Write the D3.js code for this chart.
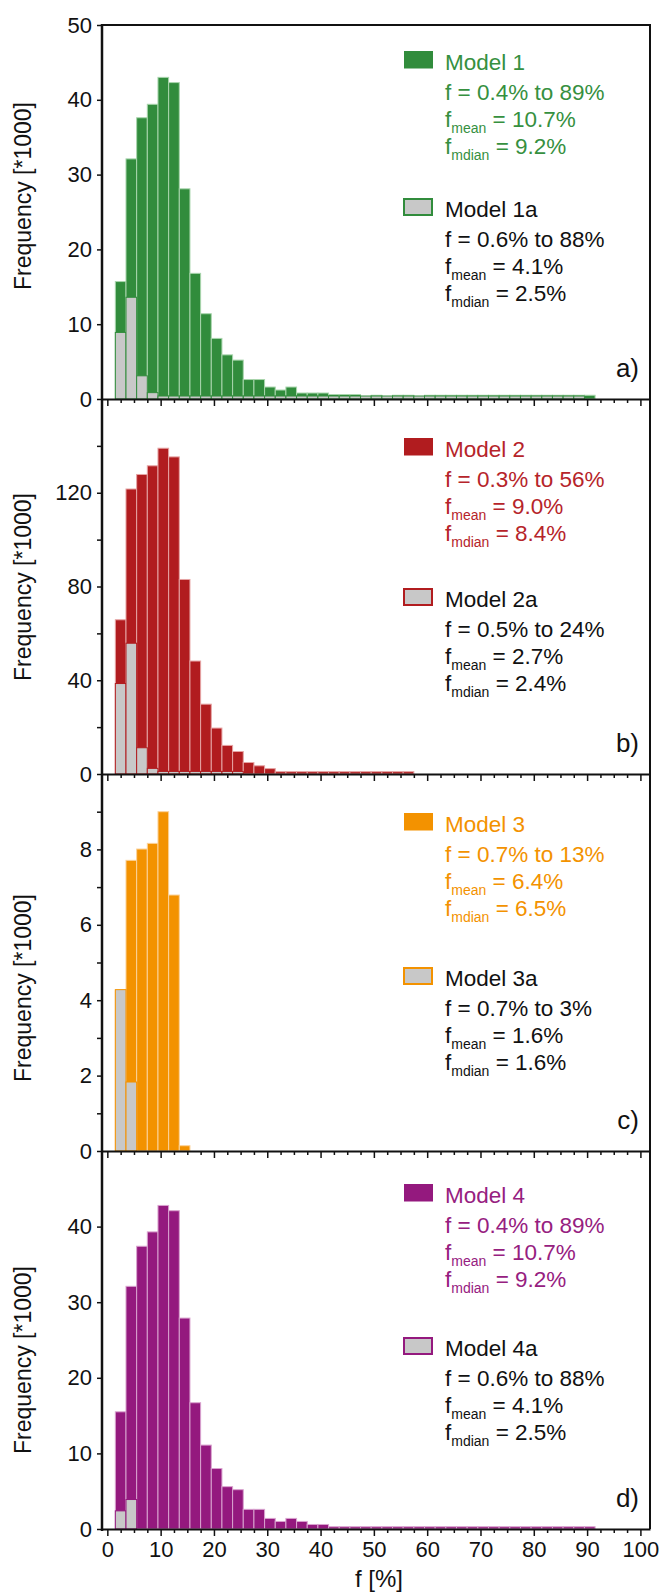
<!DOCTYPE html>
<html>
<head>
<meta charset="utf-8">
<script src="https://cdn.jsdelivr.net/npm/d3@7"></script>
<style>
  html, body { margin: 0; padding: 0; background: #fff; }
  svg { display: block; font-family: "Liberation Sans", Arial, sans-serif; }
</style>
</head>
<body>
<svg id="chart" width="662" height="1594"></svg>
<script>
// Histogram bins: 2 % wide, labelled by their centres
const binCenters = [2.5, 4.5, 6.5, 8.5, 10.5, 12.5, 14.5, 16.5, 18.5, 20.5,
  22.5, 24.5, 26.5, 28.5, 30.5, 32.5, 34.5, 36.5, 38.5, 40.5,
  42.5, 44.5, 46.5, 48.5, 50.5, 52.5, 54.5, 56.5, 58.5, 60.5,
  62.5, 64.5, 66.5, 68.5, 70.5, 72.5, 74.5, 76.5, 78.5, 80.5,
  82.5, 84.5, 86.5, 88.5, 90.5];
const binWidth = 2;

// Frequencies (*1000) per bin
const model1 = [15.7, 32.1, 37.6, 39.4, 43.0, 42.3, 28.1, 16.8, 11.4, 8.1,
  5.9, 5.2, 2.6, 2.6, 1.6, 1.2, 1.6, 0.8, 0.8, 0.8,
  0.6, 0.6, 0.6, 0.3, 0.5, 0.3, 0.5, 0.5, 0.3, 0.5,
  0.5, 0.5, 0.5, 0.5, 0.5, 0.5, 0.5, 0.5, 0.5, 0.5,
  0.5, 0.5, 0.5, 0.5, 0.5];
const model1a = [8.9, 13.6, 3.1, 0.85, 0.4, 0.4, 0.4, 0.4, 0.4, 0.4,
  0.4, 0.4, 0.4, 0.4, 0.4, 0.4, 0.4, 0.4, 0.4, 0.4,
  0.4, 0.4, 0.4, 0.4, 0.4, 0.4, 0.4, 0.4, 0.4, 0.4,
  0.4, 0.4, 0.4, 0.4, 0.4, 0.4, 0.4, 0.4, 0.4, 0.4,
  0.4, 0.4, 0.4, 0.4, 0];
const model2 = [65.8, 121.6, 127.8, 131.5, 139.0, 135.3, 83.0, 48.2, 29.8, 19.6,
  12.2, 9.6, 4.9, 3.5, 2.3, 1.0, 1.0, 1.0, 1.0, 1.0,
  1.0, 1.0, 1.0, 1.0, 1.0, 1.0, 1.0, 1.0];
const model2a = [38.6, 55.8, 11.2, 2.4, 1.1, 1.1, 1.1, 1.1, 1.1, 1.1, 1.1, 1.1];
const model3 = [4.25, 7.71, 8.01, 8.16, 9.0, 6.79, 0.14];
const model3a = [4.28, 1.83];
const model4 = [15.5, 32.1, 37.4, 39.3, 42.8, 42.1, 27.9, 16.7, 11.1, 8.0,
  5.6, 5.2, 2.6, 2.6, 1.4, 1.0, 1.4, 1.0, 0.6, 0.6,
  0.3, 0.3, 0.3, 0.3, 0.3, 0.3, 0.3, 0.3, 0.3, 0.3,
  0.3, 0.3, 0.3, 0.3, 0.3, 0.3, 0.3, 0.3, 0.3, 0.3,
  0.3, 0.3, 0.3, 0.3, 0.3];
const model4a = [2.4, 3.9];

// Axis ticks and labels
const xTickLabels = [0, 10, 20, 30, 40, 50, 60, 70, 80, 90, 100];
const yTicksA = [0, 10, 20, 30, 40, 50];
const yLabelsA = [0, 10, 20, 30, 40, 50];
const yTicksB = [0, 20, 40, 60, 80, 100, 120, 140];
const yLabelsB = [0, 40, 80, 120];
const yTicksC = [0, 1, 2, 3, 4, 5, 6, 7, 8, 9];
const yLabelsC = [0, 2, 4, 6, 8];
const yTicksD = [0, 10, 20, 30, 40];
const yLabelsD = [0, 10, 20, 30, 40];
const yMaxima = [50, 160, 10, 50];

// Legend texts
const mainNames = ["Model 1", "Model 2", "Model 3", "Model 4"];
const mainRanges = ["f = 0.4% to 89%", "f = 0.3% to 56%", "f = 0.7% to 13%", "f = 0.4% to 89%"];
const mainMeans = ["10.7%", "9.0%", "6.4%", "10.7%"];
const mainMedians = ["9.2%", "8.4%", "6.5%", "9.2%"];
const subNames = ["Model 1a", "Model 2a", "Model 3a", "Model 4a"];
const subRanges = ["f = 0.6% to 88%", "f = 0.5% to 24%", "f = 0.7% to 3%", "f = 0.6% to 88%"];
const subMeans = ["4.1%", "2.7%", "1.6%", "4.1%"];
const subMedians = ["2.5%", "2.4%", "1.6%", "2.5%"];
const panelLetters = ["a)", "b)", "c)", "d)"];

const svg = d3.select("#chart");
const left = 102, right = 650;
const x = d3.scaleLinear().domain([-1, 101.8]).range([left, right]);

const panels = [
  { top: 25, bottom: 399, main: model1, sub: model1a, ticks: yTicksA, labels: yLabelsA,
    color: "#318c3c", tint: "#a9d5ad", text: "#36903f", leg1: 45, leg2: 192, titleY: 196 },
  { top: 399, bottom: 774, main: model2, sub: model2a, ticks: yTicksB, labels: yLabelsB,
    color: "#b11c1f", tint: "#e6a4a4", text: "#b6242a", leg1: 58, leg2: 208, titleY: 587 },
  { top: 774, bottom: 1151, main: model3, sub: model3a, ticks: yTicksC, labels: yLabelsC,
    color: "#f39200", tint: "#fbd29a", text: "#f39200", leg1: 58, leg2: 212, titleY: 988 },
  { top: 1151, bottom: 1529, main: model4, sub: model4a, ticks: yTicksD, labels: yLabelsD,
    color: "#94197e", tint: "#d9a3cf", text: "#96207f", leg1: 52, leg2: 205, titleY: 1360 }
];

const gray = "#c8c8c8";
const fontSize = 22;
const legendSize = 22.5;

panels.forEach((p, i) => {
  const y = d3.scaleLinear().domain([0, yMaxima[i]]).range([p.bottom, p.top]);
  const g = svg.append("g");

  const drawBars = (vals, fill, stroke) => {
    g.append("g").selectAll("rect")
      .data(vals.map((v, k) => ({ c: binCenters[k], v })).filter(d => d.v > 0))
      .join("rect")
      .attr("x", d => x(d.c - binWidth / 2))
      .attr("width", d => x(d.c + binWidth / 2) - x(d.c - binWidth / 2))
      .attr("y", d => y(d.v))
      .attr("height", d => y(0) - y(d.v))
      .attr("fill", fill)
      .attr("stroke", stroke)
      .attr("stroke-width", 1);
  };
  drawBars(p.main, p.color, p.tint);
  drawBars(p.sub, gray, p.color);

  // left axis
  const yAxis = d3.axisLeft(y).tickValues(p.ticks).tickSize(5).tickSizeOuter(0)
    .tickPadding(5)
    .tickFormat(d => p.labels.includes(d) ? d : "");
  const ya = g.append("g").attr("transform", `translate(${left},0)`).call(yAxis);
  ya.select(".domain").remove();
  ya.selectAll(".tick line").attr("stroke", "#111").attr("stroke-width", 1.5);
  ya.selectAll(".tick text").attr("font-size", fontSize).attr("fill", "#111")
    .attr("font-family", "Liberation Sans, Arial, sans-serif");

  // bottom axis of the panel: minor every 2.5 %, major every 10 %
  const minor = d3.range(0, 100.01, 2.5).filter(v => !xTickLabels.includes(v));
  const xMinor = g.append("g").attr("transform", `translate(0,${p.bottom})`)
    .call(d3.axisBottom(x).tickValues(minor).tickSize(4).tickSizeOuter(0).tickFormat(""));
  xMinor.select(".domain").remove();
  xMinor.selectAll(".tick line").attr("stroke", "#111").attr("stroke-width", 1.5);

  const xMajor = g.append("g").attr("transform", `translate(0,${p.bottom})`)
    .call(d3.axisBottom(x).tickValues(xTickLabels).tickSize(7).tickSizeOuter(0).tickPadding(5)
      .tickFormat(i === 3 ? d3.format("d") : ""));
  xMajor.select(".domain").attr("stroke", "#111").attr("stroke-width", 2);
  xMajor.selectAll(".tick line").attr("stroke", "#111").attr("stroke-width", 1.5);
  xMajor.selectAll(".tick text").attr("font-size", fontSize).attr("fill", "#111")
    .attr("font-family", "Liberation Sans, Arial, sans-serif");

  // y title
  svg.append("text")
    .attr("transform", `translate(31,${p.titleY}) rotate(-90)`)
    .attr("text-anchor", "middle")
    .attr("font-size", 23)
    .attr("fill", "#111")
    .text("Frequency [*1000]");

  // panel letter
  svg.append("text")
    .attr("x", 639).attr("y", p.bottom - 22)
    .attr("text-anchor", "end")
    .attr("font-size", 26)
    .attr("fill", "#111")
    .text(panelLetters[i]);

  // legends
  const lx = 445, sx = 404;
  const block = (base, name, range, mean, median, col, swatch) => {
    const lg = svg.append("g");
    swatch(lg, base);
    lg.append("text").attr("x", lx).attr("y", base).attr("font-size", legendSize).attr("fill", col).text(name);
    lg.append("text").attr("x", lx).attr("y", base + 30).attr("font-size", legendSize).attr("fill", col).text(range);
    [["mean", mean, 57], ["mdian", median, 84]].forEach(([sub, val, off]) => {
      const t = lg.append("text").attr("x", lx).attr("y", base + off).attr("font-size", legendSize).attr("fill", col);
      t.append("tspan").text("f");
      t.append("tspan").attr("font-size", 14).attr("dy", 6).text(sub);
      t.append("tspan").attr("dy", -6).text(" = " + val);
    });
  };
  block(p.top + p.leg1, mainNames[i], mainRanges[i], mainMeans[i], mainMedians[i], p.text,
    (lg, b) => lg.append("rect").attr("x", sx).attr("y", b - 19).attr("width", 29).attr("height", 17.5)
      .attr("fill", p.color));
  block(p.top + p.leg2, subNames[i], subRanges[i], subMeans[i], subMedians[i], "#111",
    (lg, b) => lg.append("rect").attr("x", sx).attr("y", b - 18).attr("width", 28).attr("height", 16)
      .attr("fill", gray).attr("stroke", p.color).attr("stroke-width", 2));
});

// frame: left axis line, top and right borders
svg.append("line").attr("x1", left).attr("x2", left).attr("y1", 24).attr("y2", 1531)
  .attr("stroke", "#111").attr("stroke-width", 2.5);
svg.append("line").attr("x1", left).attr("x2", right + 1).attr("y1", 25).attr("y2", 25)
  .attr("stroke", "#111").attr("stroke-width", 2);
svg.append("line").attr("x1", right).attr("x2", right).attr("y1", 25).attr("y2", 1529)
  .attr("stroke", "#111").attr("stroke-width", 2);

// x title
svg.append("text")
  .attr("x", 379).attr("y", 1587)
  .attr("text-anchor", "middle")
  .attr("font-size", 24)
  .attr("fill", "#111")
  .text("f [%]");
</script>
</body>
</html>
